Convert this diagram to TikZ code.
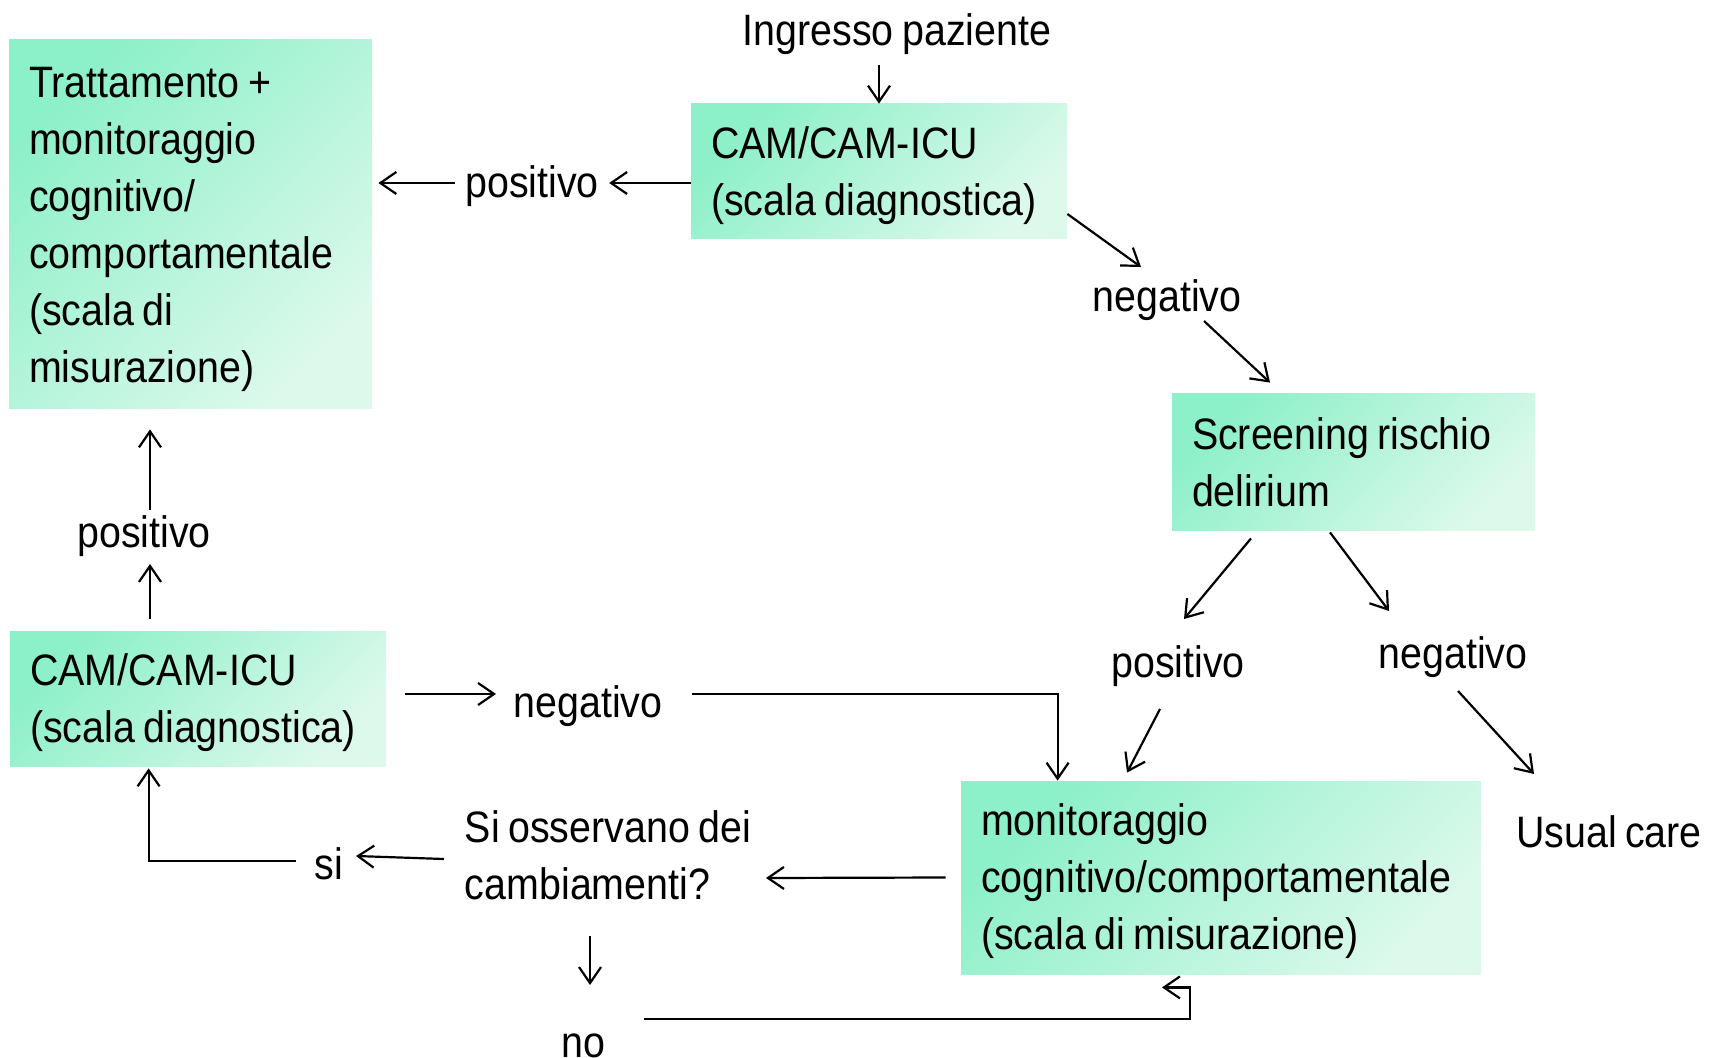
\documentclass[tikz,border=0pt]{standalone}
\usepackage{fontspec}
\setmainfont{Liberation Sans}[FakeStretch=0.895]
\usetikzlibrary{arrows.meta,calc}
\definecolor{camdark}{RGB}{140,240,200}
\definecolor{camlight}{RGB}{220,249,236}
\newcommand\tightspace{\spaceskip=4.2pt plus 1pt minus 1pt\relax}

\begin{document}
\begin{tikzpicture}[x=0.5pt, y=-0.5pt,
    box/.style={top color=camdark, bottom color=camlight, shading angle=45,
                align=left, inner xsep=10pt, inner ysep=0pt,
                font=\fontsize{22}{28.5}\selectfont,
                execute at begin node={\tightspace\rule{0pt}{20pt}},
                execute at end node={\rule[-4pt]{0pt}{4pt}}},
    lbl/.style={inner sep=5pt, align=left, font=\fontsize{22}{28.5}\selectfont,
                execute at begin node={\tightspace\rule{0pt}{19pt}},
                execute at end node={\rule[-4pt]{0pt}{4pt}}},
    arr/.style={-{Straight Barb[length=8pt,width=11pt]}, line width=1.1pt}
]
\useasboundingbox (0,0) rectangle (1716,1058);

\node[box, text width=161.5pt, minimum height=184.5pt] (treat) at (190.5,224.5)
    {Trattamento +\\monitoraggio\\cognitivo/\\comportamentale\\(scala di\\misurazione)};
\node[box, text width=168pt, minimum height=67.5pt] (cam1) at (879,171.5)
    {CAM/CAM-ICU\\(scala diagnostica)};
\node[box, text width=161.5pt, minimum height=68pt] (screen) at (1353.5,462)
    {Screening rischio\\delirium};
\node[box, text width=168pt, minimum height=67.5pt] (cam2) at (198,698.5)
    {CAM/CAM-ICU\\(scala diagnostica)};
\node[box, text width=240pt, minimum height=96.5pt] (monit) at (1221,877.5)
    {monitoraggio\\cognitivo/comportamentale\\(scala di misurazione)};

\node[lbl] (ingresso) at (897,31)  {Ingresso paziente};
\node[lbl] (pos1)     at (532,183) {positivo};
\node[lbl] (neg1)     at (1167,297) {negativo};
\node[lbl] (pos2)     at (1178,663) {positivo};
\node[lbl] (neg2)     at (1453,654) {negativo};
\node[lbl] (usual)    at (1609,832) {Usual care};
\node[lbl] (pos3)     at (144,533) {positivo};
\node[lbl] (neg3)     at (588,703) {negativo};
\node[lbl] (quest)    at (608,859) {Si osservano dei\\cambiamenti?};
\node[lbl] (si)       at (329,864) {si};
\node[lbl] (no)       at (583,1042) {no};

\draw[arr] (ingresso.south -| cam1.north) -- (cam1.north);
\draw[arr] (pos1.east -| cam1.west) -- (pos1.east);
\draw[arr] (pos1.west) -- ([xshift=3pt]pos1.west -| treat.east);
\draw[arr] ($(cam1.east)+(0,42.5)$) -- ($(neg1)+(-26,-30)$);
\draw[arr] ($(neg1)+(37,24)$) -- ($(screen.north)+(-83.5,-11)$);
\draw[arr] ($(screen.south)+(-102.5,8)$) -- ($(pos2)+(6,-44)$);
\draw[arr] ($(pos2)+(-18,46)$) -- ($(monit.north)+(-94,-8)$);
\draw[arr] ($(screen.south)+(-23.5,2)$) -- ($(neg2)+(-64,-43)$);
\draw[arr] ($(neg2)+(5,37)$) -- ($(usual)+(-75,-58)$);
\draw[arr] ($(cam2.north)+(-48,-12)$) -- ($(pos3)+(6,31)$);
\draw[arr] ($(pos3)+(6,-23)$) -- ($(treat.south)+(-40.5,20)$);
\draw[arr] ($(cam2.east)+(19,-4.5)$) -- ($(neg3)+(-92,-9)$);
\draw[arr] ($(neg3)+(104,-9)$) -| ($(monit.north west)+(97,0)$);
\draw[arr] ($(monit.west)+(-15,0)$) -- ($(quest)+(158,19)$);
\draw[arr] ($(quest)+(-164,0)$) -- ($(si)+(27,-8)$);
\draw[arr] ($(si)+(-33,-3)$) -| ($(cam2.south west)+(139,2)$);
\draw[arr] ($(quest)+(-18,77)$) -- ($(no)+(7,-57)$);
\draw[arr] ($(no)+(61,-23)$) -- ++(546,0) |- ($(monit.south)+(-59,13)$);
\end{tikzpicture}
\end{document}
